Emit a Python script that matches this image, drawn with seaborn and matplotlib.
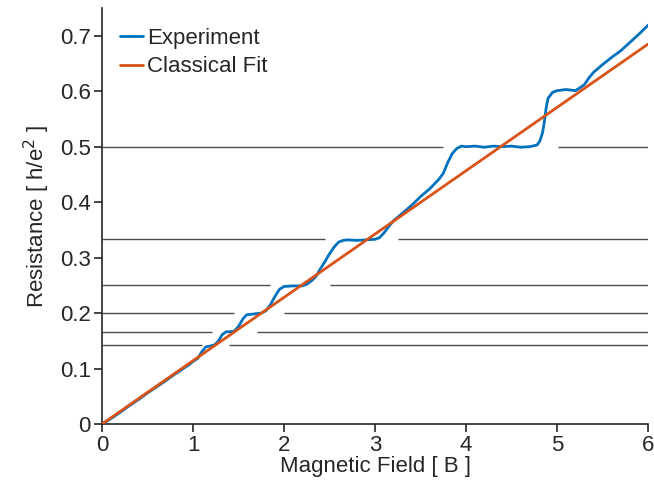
import numpy as np
import pandas as pd
import matplotlib
matplotlib.use("Agg")
import matplotlib.pyplot as plt
import seaborn as sns

# ---- data ----
exp_x = [0, 0.1, 0.2, 0.3, 0.4, 0.5, 0.6, 0.7, 0.8, 0.85, 0.9, 0.95, 1.0, 1.05, 1.1,
         1.14, 1.2, 1.24, 1.28, 1.32, 1.36, 1.45, 1.5, 1.55, 1.59, 1.65, 1.7, 1.75, 1.8,
         1.85, 1.9, 1.95, 2.0, 2.1, 2.2, 2.25, 2.3, 2.35, 2.4, 2.45, 2.5, 2.55, 2.6, 2.65,
         2.7, 2.8, 2.9, 3.0, 3.05, 3.1, 3.15, 3.2, 3.3, 3.4, 3.5, 3.6, 3.7, 3.75, 3.8,
         3.85, 3.9, 3.95, 4.0, 4.1, 4.2, 4.3, 4.4, 4.5, 4.6, 4.7, 4.78, 4.81, 4.84, 4.86,
         4.88, 4.9, 4.95, 5.0, 5.1, 5.2, 5.25, 5.3, 5.35, 5.4, 5.5, 5.6, 5.7, 5.8, 5.9, 6.0]
exp_y = [0, 0.010, 0.021, 0.033, 0.044, 0.056, 0.067, 0.078, 0.090, 0.095, 0.101, 0.106,
         0.113, 0.118, 0.131, 0.139, 0.141, 0.143, 0.150, 0.161, 0.166, 0.167, 0.176,
         0.190, 0.197, 0.198, 0.199, 0.200, 0.204, 0.215, 0.230, 0.243, 0.248, 0.249,
         0.249, 0.252, 0.258, 0.266, 0.280, 0.293, 0.307, 0.319, 0.328, 0.331, 0.332,
         0.331, 0.332, 0.333, 0.336, 0.345, 0.356, 0.366, 0.380, 0.394, 0.410, 0.424,
         0.441, 0.452, 0.472, 0.488, 0.497, 0.501, 0.500, 0.501, 0.499, 0.501, 0.500,
         0.501, 0.499, 0.500, 0.503, 0.510, 0.525, 0.545, 0.570, 0.587, 0.598, 0.601,
         0.603, 0.601, 0.606, 0.612, 0.624, 0.634, 0.648, 0.661, 0.673, 0.688, 0.703, 0.719]
fit_x = [0, 6]
fit_y = [0, 0.685]

levels = [1/2, 1/3, 1/4, 1/5, 1/6, 1/7]
gap_start = [3.75, 2.45, 1.85, 1.45, 1.21, 1.10]
gap_end = [5.01, 3.25, 2.51, 2.00, 1.70, 1.40]

x_ticks = [0, 1, 2, 3, 4, 5, 6]
y_ticks = [0, 0.1, 0.2, 0.3, 0.4, 0.5, 0.6, 0.7]
y_tick_labels = ["0", "0.1", "0.2", "0.3", "0.4", "0.5", "0.6", "0.7"]

# ---- plot ----
sns.set_style("white")
plt.rcParams["font.family"] = ["Liberation Sans", "DejaVu Sans"]

fig = plt.figure(figsize=(6.54, 5.00), dpi=100)
ax = fig.add_axes([0.156, 0.152, 0.835, 0.832])

for lv, g0, g1 in zip(levels, gap_start, gap_end):
    ax.hlines(lv, 0, g0, color="#4d4d4d", lw=1.0, zorder=1)
    ax.hlines(lv, g1, 6, color="#4d4d4d", lw=1.0, zorder=1)

exp_df = pd.DataFrame({"B": exp_x, "R": exp_y})
fit_df = pd.DataFrame({"B": fit_x, "R": fit_y})
sns.lineplot(data=exp_df, x="B", y="R", ax=ax, color="#0072BD", lw=2.0,
             label="Experiment", zorder=3, sort=False)
sns.lineplot(data=fit_df, x="B", y="R", ax=ax, color="#D95319", lw=2.0,
             label="Classical Fit", zorder=4)

ax.set_xlim(0, 6)
ax.set_ylim(0, 0.75)
ax.set_xticks(x_ticks)
ax.set_yticks(y_ticks)
ax.set_yticklabels(y_tick_labels)
ax.tick_params(direction="out", length=6, width=1.2, labelsize=16, colors="#262626",
               left=True, bottom=True, pad=2)
for s in ["top", "right"]:
    ax.spines[s].set_visible(False)
for s in ["left", "bottom"]:
    ax.spines[s].set_color("#262626")
    ax.spines[s].set_linewidth(1.2)

ax.set_xlabel("Magnetic Field [ B ]", fontsize=16, color="#262626", labelpad=0)
ax.set_ylabel("Resistance [ h/e$^2$ ]", fontsize=16, color="#262626", labelpad=6)

leg = ax.legend(loc="upper left", bbox_to_anchor=(0.005, 0.99), frameon=False,
                fontsize=16, handlelength=1.0, handletextpad=0.2, borderaxespad=0.3,
                labelspacing=0.35)

fig.savefig("out.png", dpi=100)
